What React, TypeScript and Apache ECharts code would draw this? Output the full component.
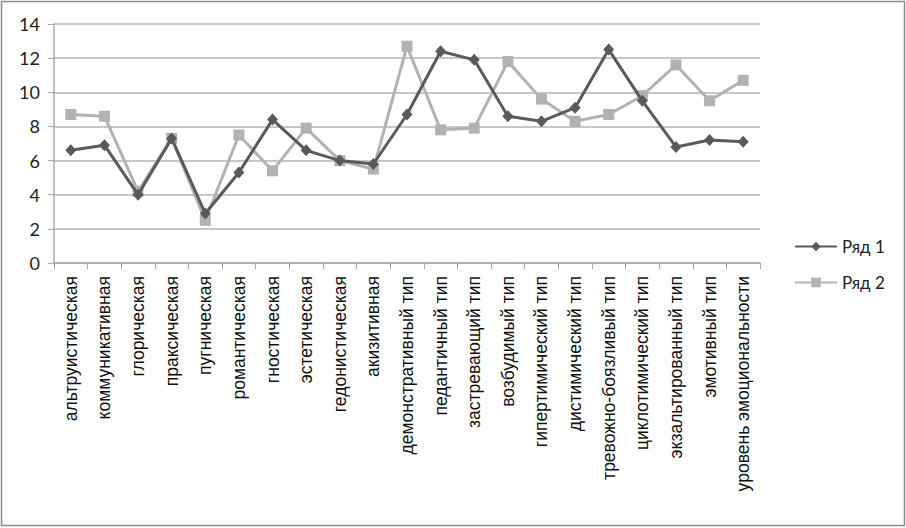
import React, { useEffect, useRef } from "react";
import * as echarts from "echarts";

const categories = [
  "альтруистическая",
  "коммуникативная",
  "глорическая",
  "праксическая",
  "пугническая",
  "романтическая",
  "гностическая",
  "эстетическая",
  "гедонистическая",
  "акизитивная",
  "демонстративный тип",
  "педантичный тип",
  "застревающий тип",
  "возбудимый тип",
  "гипертимический тип",
  "дистимический тип",
  "тревожно-боязливый тип",
  "циклотимический тип",
  "экзальтированный тип",
  "эмотивный тип",
  "уровень эмоциональности",
];

const series1Name = "Ряд 1";
const series2Name = "Ряд 2";

const series1 = [6.6, 6.9, 4.0, 7.3, 2.9, 5.3, 8.4, 6.6, 6.0, 5.8, 8.7, 12.4, 11.9, 8.6, 8.3, 9.1, 12.5, 9.5, 6.8, 7.2, 7.1];
const series2 = [8.7, 8.6, 4.2, 7.3, 2.5, 7.5, 5.4, 7.9, 6.0, 5.5, 12.7, 7.8, 7.9, 11.8, 9.6, 8.3, 8.7, 9.8, 11.6, 9.5, 10.7];

const yMin = 0;
const yMax = 14;
const yInterval = 2;

export default function App() {
  const ref = useRef<HTMLDivElement>(null);

  useEffect(() => {
    if (!ref.current) return;
    const chart = echarts.init(ref.current, undefined, { renderer: "svg" });
    chart.setOption({
      animation: false,
      backgroundColor: "#ffffff",
      graphic: [
        {
          type: "rect",
          shape: { x: 1.5, y: 1.5, width: 903, height: 524 },
          style: { fill: "none", stroke: "#8a8a8a", lineWidth: 1.5 },
          silent: true,
        },
      ],
      grid: { left: 54, right: 146, top: 24, bottom: 265 },
      legend: {
        orient: "vertical",
        left: 789,
        top: 233,
        itemWidth: 42,
        itemHeight: 12,
        itemGap: 19,
        textStyle: { fontFamily: "Lato", fontSize: 17, color: "#222" },
        data: [series1Name, series2Name],
      },
      xAxis: {
        type: "category",
        data: categories,
        boundaryGap: true,
        axisLine: { lineStyle: { color: "#a8a8a8", width: 1.5 } },
        axisTick: { show: true, interval: 0, length: 6, lineStyle: { color: "#a8a8a8" } },
        axisLabel: {
          interval: 0,
          rotate: 90,
          margin: 13,
          fontFamily: "Liberation Sans",
          fontSize: 17.5,
          color: "#111",
        },
        splitLine: { show: false },
      },
      yAxis: {
        type: "value",
        min: yMin,
        max: yMax,
        interval: yInterval,
        axisLine: { show: true, lineStyle: { color: "#a8a8a8", width: 1.5 } },
        axisTick: { show: true, length: 6, lineStyle: { color: "#a8a8a8" } },
        axisLabel: { margin: 14, fontFamily: "Lato", fontSize: 18, color: "#222" },
        splitLine: { show: true, lineStyle: { color: "#b4b4b4", width: 1.5 } },
      },
      series: [
        {
          name: series1Name,
          type: "line",
          data: series1,
          symbol: "diamond",
          symbolSize: [11, 12],
          color: "#5a5a5a",
          lineStyle: { color: "#5a5a5a", width: 3 },
          itemStyle: { color: "#5a5a5a" },
          z: 3,
        },
        {
          name: series2Name,
          type: "line",
          data: series2,
          symbol: "rect",
          symbolSize: 11,
          color: "#b2b2b2",
          lineStyle: { color: "#b2b2b2", width: 3 },
          itemStyle: { color: "#b2b2b2" },
          z: 2,
        },
      ],
    });
    return () => chart.dispose();
  }, []);

  return (
    <div
      ref={ref}
      style={{ position: "fixed", left: 0, top: 0, width: 906, height: 528, background: "#fff" }}
    />
  );
}
